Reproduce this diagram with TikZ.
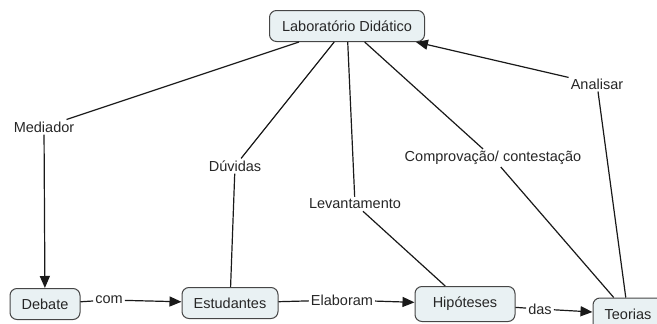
\documentclass[tikz,border=0pt]{standalone}
\usepackage{fontspec}
\setmainfont{Liberation Sans}
\usetikzlibrary{arrows.meta}
\definecolor{cmapfill}{RGB}{233,241,243}
\definecolor{cmapline}{RGB}{70,70,70}
\begin{document}
\begin{tikzpicture}[x=1pt, y=-1pt,
    concept/.style ={rectangle, rounded corners=7pt, draw=cmapline, fill=cmapfill, line width=1pt, inner sep=0pt, minimum height=31pt, font=\fontsize{14.5}{16}\selectfont, text=black!85},
    linking/.style ={inner sep=2pt, font=\fontsize{14.5}{16}\selectfont, text=black!85},
    link/.style ={draw=black!90, line width=1.2pt},
    arrow/.style ={link, -{Triangle[length=12pt,width=10pt]}}]
   \useasboundingbox (0,0) rectangle (657,324);
   \node[concept, minimum width=155pt] (Lab)  at (347,26)  {Laboratório Didático};
   \node[concept, minimum width=70pt]  (Deb)  at (45,304)  {Debate};
   \node[concept, minimum width=96pt]  (Est)  at (230,303) {Estudantes};
   \node[concept, minimum width=100pt, minimum height=35pt] (Hip)  at (465,304) {Hipóteses};
   \node[concept, minimum width=70pt, minimum height=32pt]  (Teo)  at (628,314) {Teorias};
   \node[linking] (Med)  at (44,127)  {Mediador};
   \node[linking] (Duv)  at (235,166) {Dúvidas};
   \node[linking] (Lev)  at (355,204) {Levantamento};
   \node[linking] (Comp) at (493,158) {Comprovação/ contestação};
   \node[linking] (Ana)  at (597,84)  {Analisar};
   \node[linking] (Com)  at (109,300) {com};
   \node[linking] (Ela)  at (342,300) {Elaboram};
   \node[linking] (Das)  at (540,309) {das};
   \draw[link]  (Lab) to (Med);
   \draw[arrow] (Med) to (Deb);
   \draw[link]  (Lab) to (Duv);
   \draw[link]  (Duv) to (Est);
   \draw[link]  (Lab) to (Lev);
   \draw[link]  (Lev) to (Hip);
   \draw[link]  (Lab) to (Comp);
   \draw[link]  (Comp) to (Teo);
   \draw[link]  (Teo) to (Ana);
   \draw[arrow] (Ana) to (Lab);
   \draw[link]  (Deb) to (Com);
   \draw[arrow] (Com) to (Est);
   \draw[link]  (Est) to (Ela);
   \draw[arrow] (Ela) to (Hip);
   \draw[link]  (Hip) to (Das);
   \draw[arrow] (Das) to (Teo);
 \end{tikzpicture}
\end{document}
